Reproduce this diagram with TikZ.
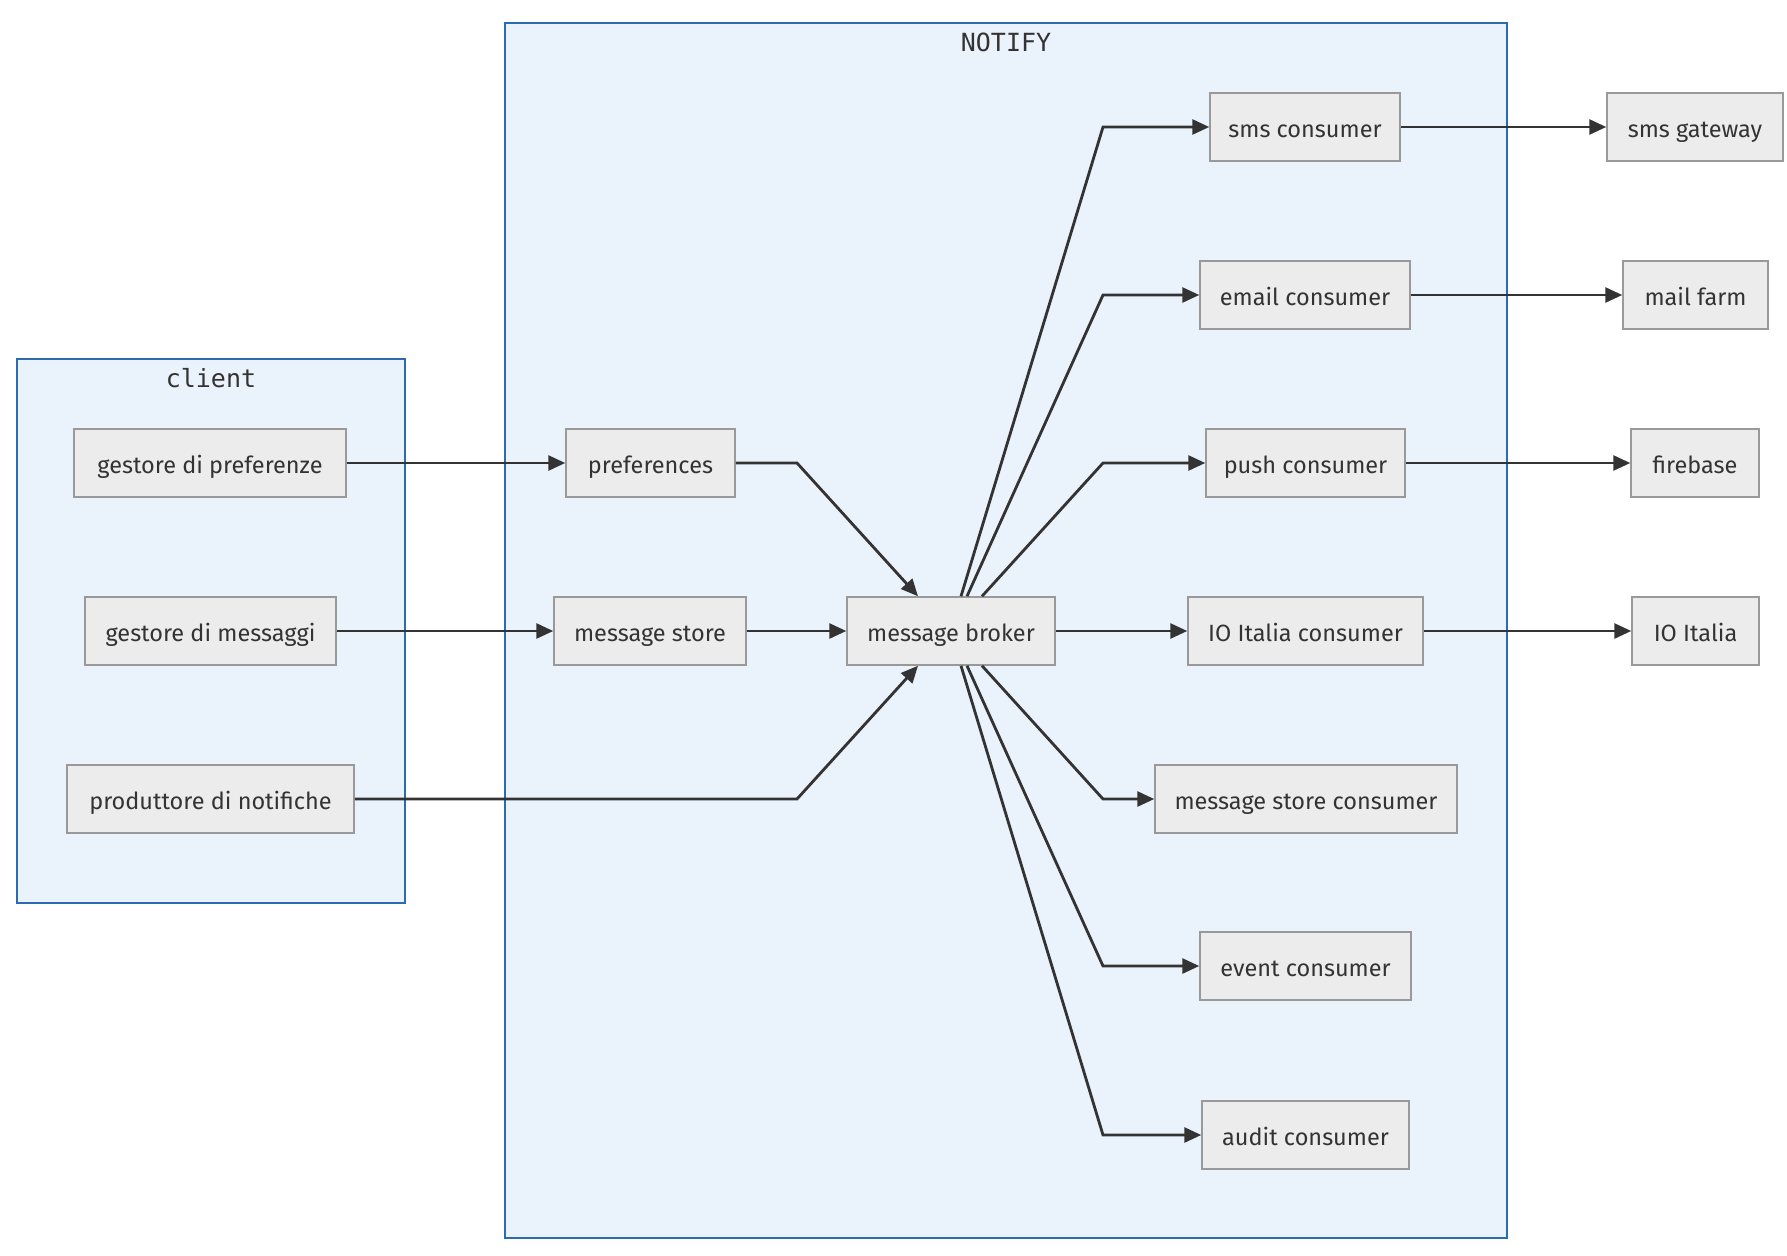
\documentclass[tikz,border=0pt]{standalone}
\usepackage{fontspec}
\setmainfont{Fira Sans}
\newfontfamily\titlefont{DejaVu Sans Mono}
\usetikzlibrary{arrows.meta,calc}
\definecolor{clusterfill}{HTML}{EAF2FB}
\definecolor{clusterline}{HTML}{2B6CB0}
\definecolor{boxfill}{HTML}{ECECEC}
\definecolor{boxline}{HTML}{999999}
\definecolor{ink}{HTML}{333333}

\begin{document}
\begin{tikzpicture}[x=1pt,y=-1pt,
  box/.style={draw=boxline, fill=boxfill, line width=1.5pt, minimum height=68pt,
    inner sep=0pt, text height=20pt, text depth=0pt, text=ink,
    font=\fontsize{23.5}{28}\selectfont},
  link/.style={draw=ink, line width=2.8pt, -{Triangle[length=17pt,width=15pt]}},
  cluster/.style={draw=clusterline, fill=clusterfill, line width=1.5pt},
  title/.style={text=ink, font=\titlefont\fontsize{25}{30}\selectfont}]

\useasboundingbox (0,0) rectangle (1787,1255);
\fill[white] (0,0) rectangle (1787,1255);

% subgraphs
\draw[cluster] (505,23) rectangle (1507,1238);
\node[title] (notifytitle) at (1006,42) {NOTIFY};
\draw[cluster] (17,359) rectangle (405,903);
\node[title] (clienttitle) at (211,378) {client};

% client side
\node[box, minimum width=272pt] (gp) at (210,463) {gestore di preferenze};
\node[box, minimum width=251pt] (gm) at (210.5,631) {gestore di messaggi};
\node[box, minimum width=287pt] (pn) at (210.5,799) {produttore di notifiche};

% notify core
\node[box, minimum width=169pt] (pref) at (650.5,463) {preferences};
\node[box, minimum width=192pt] (ms) at (650,631) {message store};
\node[box, minimum width=208pt] (mb) at (951,631) {message broker};

% consumers
\node[box, minimum width=190pt] (smsc) at (1305,127) {sms consumer};
\node[box, minimum width=210pt] (emc) at (1305,295) {email consumer};
\node[box, minimum width=199pt] (pushc) at (1305.5,463) {push consumer};
\node[box, minimum width=235pt] (ioc) at (1305.5,631) {IO Italia consumer};
\node[box, minimum width=302pt] (msc) at (1306,799) {message store consumer};
\node[box, minimum width=211pt] (evc) at (1305.5,966) {event consumer};
\node[box, minimum width=207pt] (auc) at (1305.5,1135) {audit consumer};

% external services
\node[box, minimum width=176pt] (smsg) at (1695,127) {sms gateway};
\node[box, minimum width=145pt] (mail) at (1695.5,295) {mail farm};
\node[box, minimum width=128pt] (fire) at (1695,463) {firebase};
\node[box, minimum width=127pt] (io) at (1695.5,631) {IO Italia};

% bends
\coordinate (kpref) at (797,463);
\coordinate (kpn) at (797,799);
\coordinate (ksms) at (1103,127);
\coordinate (kem) at (1103,295);
\coordinate (kpush) at (1103,463);
\coordinate (kmsc) at (1103,799);
\coordinate (kev) at (1103,966);
\coordinate (kau) at (1103,1135);

% connectors
\draw[link] (gp.east) -- (pref.west);
\draw[link] (gm.east) -- (ms.west);
\draw[link] (pn.east) -- (kpn) -- ($(mb.south)+(-33,0)$);
\draw[link] (pref.east) -- (kpref) -- ($(mb.north)+(-33,0)$);
\draw[link] (ms.east) -- (mb.west);

\draw[link] ($(mb.north)+(10,0)$) -- (ksms) -- (smsc.west);
\draw[link] ($(mb.north)+(16,0)$) -- (kem) -- (emc.west);
\draw[link] ($(mb.north)+(31,0)$) -- (kpush) -- (pushc.west);
\draw[link] (mb.east) -- (ioc.west);
\draw[link] ($(mb.south)+(31,0)$) -- (kmsc) -- (msc.west);
\draw[link] ($(mb.south)+(16,0)$) -- (kev) -- (evc.west);
\draw[link] ($(mb.south)+(10,0)$) -- (kau) -- (auc.west);

\draw[link] (smsc.east) -- (smsg.west);
\draw[link] (emc.east) -- (mail.west);
\draw[link] (pushc.east) -- (fire.west);
\draw[link] (ioc.east) -- (io.west);
\end{tikzpicture}
\end{document}
